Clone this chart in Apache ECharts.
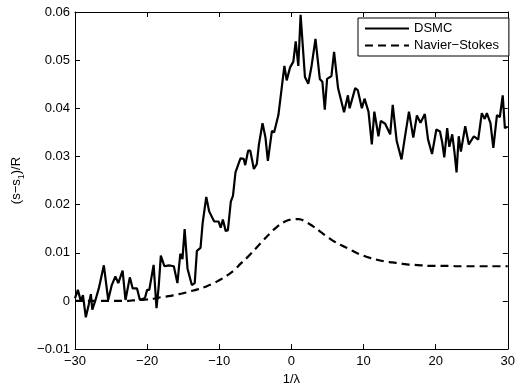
<!DOCTYPE html>
<html>
<head>
<meta charset="utf-8">
<script src="https://cdn.jsdelivr.net/npm/echarts@6/dist/echarts.min.js"></script>
<style>
  html, body { margin: 0; padding: 0; background: #fff; }
  #chart { width: 518px; height: 391px; }
</style>
</head>
<body>
<div id="chart"></div>
<script>
// Entropy rise through the shock: DSMC samples and Navier–Stokes solution
const dsmcX = [
  -30.0, -29.6, -29.2, -28.9, -28.5, -28.1, -27.8, -27.6, -27.2, -26.7,
  -26.0, -25.4, -24.9, -24.4, -24.0, -23.4, -23.0, -22.4, -22.0, -21.4,
  -21.0, -20.3, -20.0, -19.7, -19.1, -18.7, -18.4, -18.1, -17.6, -17.0,
  -16.3, -15.8, -15.4, -15.1, -14.8, -14.4, -13.8, -13.4, -13.1, -12.6,
  -12.3, -11.8, -11.4, -10.7, -10.1, -9.8, -9.5, -9.1, -8.8, -8.4,
  -8.1, -7.75, -7.06, -6.6, -6.4, -6.0, -5.7, -5.2, -4.8, -4.5,
  -4.0, -3.6, -3.26, -2.7, -2.4, -1.8, -0.97, -0.65, -0.18, 0.27,
  0.6, 0.96, 1.28, 1.88, 2.34, 2.8, 3.34, 3.94, 4.3, 4.63,
  4.95, 5.55, 5.92, 6.47, 7.3, 7.84, 8.07, 8.85, 9.2, 9.77,
  10.14, 10.69, 11.15, 11.5, 12.07, 12.4, 13.0, 13.7, 14.05, 14.6,
  15.27, 15.73, 16.3, 16.9, 17.4, 17.9, 18.5, 18.95, 19.5, 20.1,
  20.6, 20.9, 21.2, 21.6, 21.9, 22.3, 22.6, 22.9, 23.2, 23.5,
  24.1, 24.6, 25.3, 25.9, 26.4, 26.8, 27.1, 27.6, 28.0, 28.5,
  28.9, 29.3, 29.6, 30.0
];
const dsmcY = [
  0.0006, 0.0023, 0.0000, 0.0012, -0.0034, -0.0008, 0.0014, -0.0018, 0.0000, 0.0026,
  0.0074, 0.0002, 0.0033, 0.0051, 0.0037, 0.0063, 0.0002, 0.0049, 0.0026, 0.0026,
  0.0002, 0.0006, 0.0023, 0.0023, 0.0075, -0.0015, 0.0029, 0.0094, 0.0072, 0.0074,
  0.0072, 0.0037, 0.0098, 0.0087, 0.0149, 0.0067, 0.0033, 0.0037, 0.0104, 0.0110,
  0.0162, 0.0216, 0.0186, 0.0165, 0.0165, 0.0152, 0.0169, 0.0145, 0.0147, 0.0206,
  0.0218, 0.0267, 0.0296, 0.0295, 0.0282, 0.0312, 0.0312, 0.0274, 0.0284, 0.0325,
  0.0369, 0.0340, 0.0291, 0.0353, 0.0350, 0.0386, 0.0488, 0.0458, 0.0485, 0.0497,
  0.0539, 0.0488, 0.0594, 0.0465, 0.0451, 0.0488, 0.0544, 0.0461, 0.0455, 0.0397,
  0.0461, 0.0467, 0.0517, 0.0442, 0.0392, 0.0427, 0.0400, 0.0442, 0.0438, 0.0400,
  0.0420, 0.0393, 0.0325, 0.0393, 0.0342, 0.0374, 0.0368, 0.0346, 0.0407, 0.0332,
  0.0294, 0.0339, 0.0393, 0.0339, 0.0385, 0.0370, 0.0388, 0.0335, 0.0305, 0.0356,
  0.0352, 0.0330, 0.0298, 0.0359, 0.0320, 0.0346, 0.0310, 0.0267, 0.0342, 0.0310,
  0.0363, 0.0325, 0.0342, 0.0335, 0.0390, 0.0378, 0.0390, 0.0369, 0.0318, 0.0386,
  0.0382, 0.0427, 0.0359, 0.0362
];
const nsX = [
  -30, -29, -28, -27, -26, -25, -24, -23, -22, -21,
  -20, -19, -18, -17, -16, -15, -14, -13, -12, -11,
  -10, -9, -8, -7, -6, -5, -4, -3, -2, -1,
  0, 1, 2, 3, 4, 5, 6, 7, 8, 9,
  10, 11, 12, 13, 14, 15, 16, 17, 18, 19,
  20, 21, 22, 23, 24, 25, 26, 27, 28, 29, 30
];
const nsY = [
  0, 0, 0, 0, 0, 0, 0, 0, 0.0001, 0.0002,
  0.0003, 0.0005, 0.0008, 0.0010, 0.0013, 0.0016, 0.0020, 0.0024, 0.0029, 0.0035,
  0.0043, 0.0052, 0.0063, 0.0078, 0.0092, 0.0108, 0.0124, 0.0140, 0.0154, 0.0164,
  0.0169, 0.0170, 0.0164, 0.0155, 0.0144, 0.0133, 0.0123, 0.0115, 0.0108, 0.0100,
  0.0094, 0.0089, 0.0085, 0.0082, 0.0080, 0.0078, 0.0076, 0.0075, 0.0074, 0.0073,
  0.0073, 0.0073, 0.0073, 0.0072, 0.0072, 0.0072, 0.0072, 0.0072, 0.0072, 0.0072, 0.0072
];
const xRange = [-30, 30];
const xStep = 10;
const yRange = [-0.01, 0.06];
const yStep = 0.01;
const seriesNames = ['DSMC', 'Navier\u2212Stokes'];

const FONT = 'Liberation Sans, Arial, Helvetica, sans-serif';
const minus = s => String(s).replace('-', '\u2212');
const fmtX = v => minus(Math.round(v));
const fmtY = v => {
  const r = Math.round(v * 100) / 100;
  return r === 0 ? '0' : minus(r.toFixed(2));
};

const zip = (xs, ys) => xs.map((x, i) => [x, ys[i]]);

const tickStyle = { show: true, inside: true, length: 5, lineStyle: { color: '#000', width: 1 } };
const lineStyleAxis = { show: true, onZero: false, lineStyle: { color: '#000', width: 1 } };

const chart = echarts.init(document.getElementById('chart'), null, { renderer: 'canvas' });
chart.setOption({
  animation: false,
  backgroundColor: '#fff',
  grid: { left: 75, right: 7, top: 12, bottom: 36, containLabel: false },
  xAxis: [
    {
      type: 'value', min: xRange[0], max: xRange[1], interval: xStep,
      axisLine: lineStyleAxis, axisTick: tickStyle, splitLine: { show: false },
      axisLabel: { color: '#000', fontSize: 13, fontFamily: FONT, margin: 6, formatter: fmtX },
      name: '1/\u03bb', nameLocation: 'middle', nameGap: 21,
      nameTextStyle: { color: '#000', fontSize: 13, fontFamily: FONT }
    },
    {
      type: 'value', position: 'top', min: xRange[0], max: xRange[1], interval: xStep,
      axisLine: lineStyleAxis, axisTick: tickStyle, splitLine: { show: false },
      axisLabel: { show: false }
    }
  ],
  yAxis: [
    {
      type: 'value', min: yRange[0], max: yRange[1], interval: yStep,
      axisLine: lineStyleAxis, axisTick: tickStyle, splitLine: { show: false },
      axisLabel: { color: '#000', fontSize: 13, fontFamily: FONT, margin: 5, formatter: fmtY },
      name: '{a|(s\u2212s}{sub|1}{a|)/R}', nameLocation: 'middle', nameGap: 46, nameRotate: 90,
      nameTextStyle: {
        color: '#000', fontSize: 13, fontFamily: FONT,
        rich: {
          a: { fontSize: 13, fontFamily: FONT, color: '#000', lineHeight: 15, verticalAlign: 'top' },
          sub: { fontSize: 9, fontFamily: FONT, color: '#000', lineHeight: 15, verticalAlign: 'top', padding: [7, 0, 0, 0] }
        }
      }
    },
    {
      type: 'value', position: 'right', min: yRange[0], max: yRange[1], interval: yStep,
      axisLine: lineStyleAxis, axisTick: tickStyle, splitLine: { show: false },
      axisLabel: { show: false }
    }
  ],
  legend: {
    orient: 'vertical', left: 358, top: 18,
    backgroundColor: '#fff', borderColor: '#000', borderWidth: 1, borderRadius: 0,
    padding: [4, 10, 4, 6], itemGap: 4, itemWidth: 44, itemHeight: 14,
    textStyle: { color: '#000', fontSize: 13, fontFamily: FONT },
    itemStyle: { color: 'rgba(0,0,0,0)', borderColor: 'rgba(0,0,0,0)', borderWidth: 0 },
    data: seriesNames
  },
  series: [
    {
      name: seriesNames[0], type: 'line', data: zip(dsmcX, dsmcY),
      symbol: 'none', smooth: false,
      lineStyle: { color: '#000', width: 2.2 }, itemStyle: { color: '#000' }
    },
    {
      name: seriesNames[1], type: 'line', data: zip(nsX, nsY),
      symbol: 'none', smooth: true,
      lineStyle: { color: '#000', width: 2.2, type: [8, 5] }, itemStyle: { color: '#000' }
    }
  ]
});
</script>
</body>
</html>
